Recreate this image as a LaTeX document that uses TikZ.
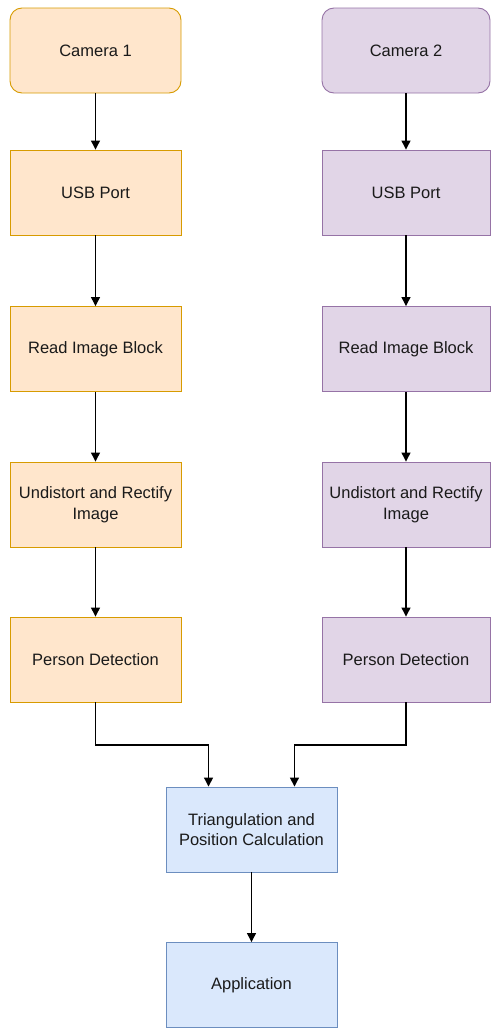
\documentclass[tikz,border=0pt]{standalone}
\usepackage{fontspec}
\setmainfont{Liberation Sans}
\usetikzlibrary{arrows.meta,calc}
\definecolor{ofill}{HTML}{FFE6CC}
\definecolor{odraw}{HTML}{D79B00}
\definecolor{pfill}{HTML}{E1D5E7}
\definecolor{pdraw}{HTML}{9673A6}
\definecolor{bfill}{HTML}{DAE8FC}
\definecolor{bdraw}{HTML}{6C8EBF}
\definecolor{txt}{HTML}{1A1A1A}
\tikzset{
  box/.style={rectangle, minimum width=171pt, minimum height=85pt, inner sep=2pt, align=center, line width=0.9pt, text=txt, font=\fontsize{16.5pt}{20.5pt}\selectfont},
  obox/.style={box, fill=ofill, draw=odraw},
  pbox/.style={box, fill=pfill, draw=pdraw, minimum width=168pt},
  bbox/.style={box, fill=bfill, draw=bdraw},
  arr/.style={-{Triangle[length=9pt,width=9pt]}, line width=1.2pt, black},
}
\begin{document}
\begin{tikzpicture}[x=1pt,y=-1pt]
\useasboundingbox (0,0) rectangle (491,1028);
% left column
\node[obox, rounded corners=12pt] (c1) at (95.5,50.5) {Camera 1};
\node[obox] (u1) at (95.5,192.5) {USB Port};
\node[obox] (r1) at (95.5,349) {Read Image Block};
\node[obox] (d1) at (95.5,504.5) {Undistort and Rectify\\Image};
\node[obox] (p1) at (95.5,659.5) {Person Detection};
% right column
\node[pbox, rounded corners=12pt] (c2) at (406,50.5) {Camera 2};
\node[pbox] (u2) at (406,192.5) {USB Port};
\node[pbox] (r2) at (406,349) {Read Image Block};
\node[pbox] (d2) at (406,504.5) {Undistort and Rectify\\Image};
\node[pbox] (p2) at (406,659.5) {Person Detection};
% bottom
\node[bbox] (t) at (251.5,829.5) {Triangulation and\\Position Calculation};
\node[bbox] (a) at (251.5,985) {Application};
% arrows
\draw[arr] (c1) -- (u1);
\draw[arr] (u1) -- (r1);
\draw[arr] (r1) -- (d1);
\draw[arr] (d1) -- (p1);
\draw[arr] (c2) -- (u2);
\draw[arr] (u2) -- (r2);
\draw[arr] (r2) -- (d2);
\draw[arr] (d2) -- (p2);
\coordinate (tl) at ($(t.north west)!0.25!(t.north east)$);
\coordinate (tr) at ($(t.north west)!0.75!(t.north east)$);
\coordinate (jl) at ($(p1.south)+(0,42.5)$);
\coordinate (jr) at ($(p2.south)+(0,42.5)$);
\draw[arr] (p1.south) -- (jl) -| (tl);
\draw[arr] (p2.south) -- (jr) -| (tr);
\draw[arr] (t) -- (a);
\end{tikzpicture}
\end{document}
